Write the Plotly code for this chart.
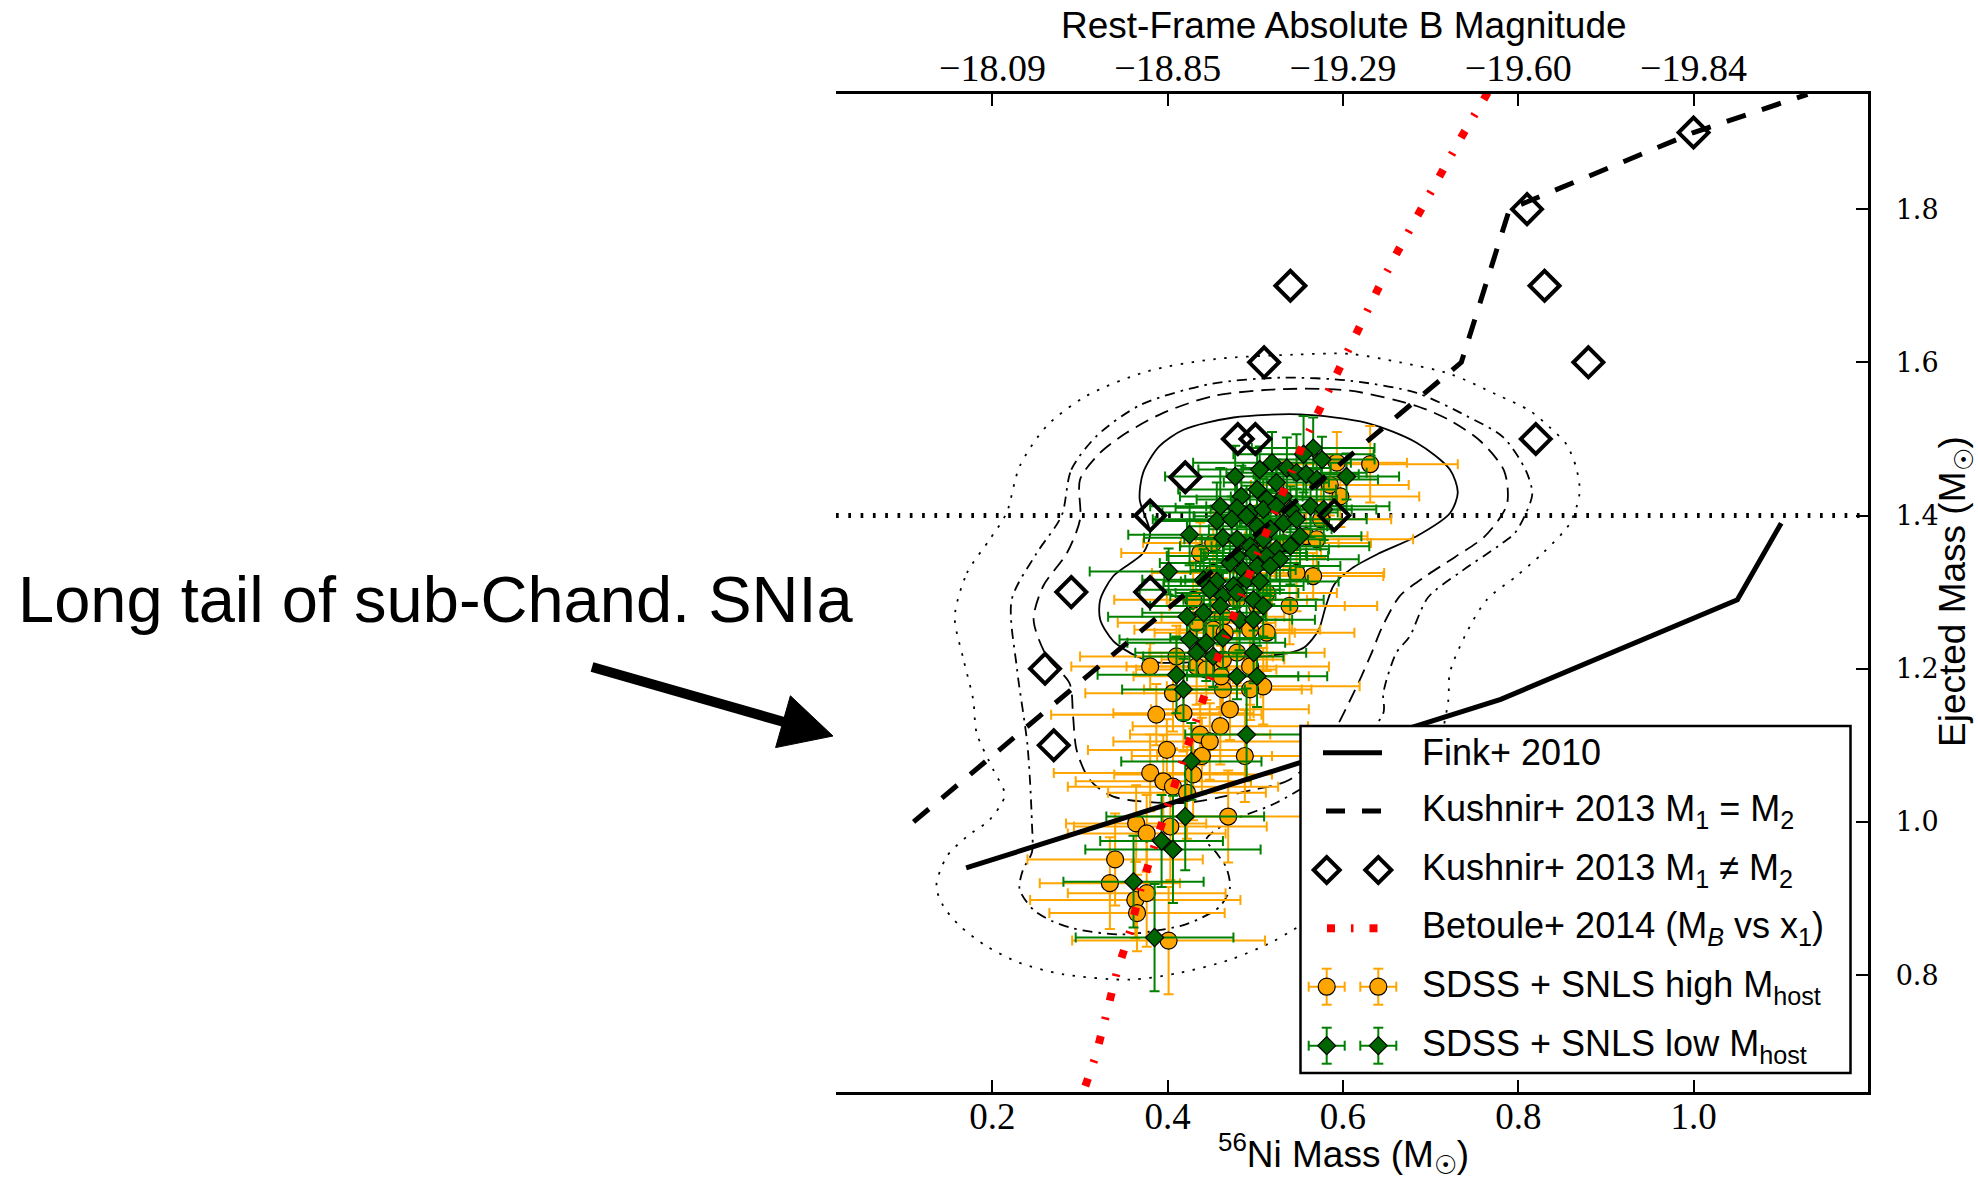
import plotly.graph_objects as go

W, H = 1978, 1182

# ---------------- axis box (pixels, from the reference) ----------------
AX_LEFT, AX_RIGHT, AX_TOP, AX_BOTTOM = 836.0, 1867.5, 93.5, 1091.5
X_RANGE = [0.0215, 1.1985]
Y_RANGE = [0.648, 1.951]

# ---------------- tick labels ----------------
x_tick_vals = [0.2, 0.4, 0.6, 0.8, 1.0]
x_tick_text = ["0.2", "0.4", "0.6", "0.8", "1.0"]
top_tick_text = ["\u221218.09", "\u221218.85", "\u221219.29", "\u221219.60", "\u221219.84"]
y_tick_vals = [0.8, 1.0, 1.2, 1.4, 1.6, 1.8]
y_tick_text = ["0.8", "1.0", "1.2", "1.4", "1.6", "1.8"]

# ---------------- data ----------------
chand_x = [0.0215, 1.1985]
chand_y = [1.4, 1.4]

fink_x = [0.17, 0.78, 1.05, 1.10]
fink_y = [0.94, 1.16, 1.29, 1.39]

kush_eq_x = [0.11, 0.735, 0.79, 1.00, 1.13]
kush_eq_y = [1.00, 1.60, 1.80, 1.90, 1.95]

kush_neq_x = [1.00, 0.81, 0.54, 0.83, 0.51, 0.88, 0.48, 0.50, 0.82, 0.42, 0.38, 0.59, 0.29, 0.38, 0.26, 0.27]
kush_neq_y = [1.90, 1.80, 1.70, 1.70, 1.60, 1.60, 1.50, 1.50, 1.50, 1.45, 1.40, 1.40, 1.30, 1.30, 1.20, 1.10]

betoule_x = [0.306, 0.318, 0.330, 0.342, 0.357, 0.369, 0.384, 0.399, 0.415, 0.430, 0.446, 0.463, 0.480,
             0.498, 0.517, 0.536, 0.555, 0.576, 0.597, 0.619, 0.640, 0.663, 0.686, 0.711, 0.735, 0.760, 0.770]
betoule_y = [0.655, 0.695, 0.749, 0.804, 0.857, 0.912, 0.966, 1.019, 1.072, 1.125, 1.179, 1.232, 1.286,
             1.338, 1.390, 1.443, 1.495, 1.545, 1.595, 1.645, 1.696, 1.746, 1.794, 1.844, 1.894, 1.942, 1.962]

# density contours (innermost solid -> outermost dotted)
c1_x = [0.323, 0.323, 0.338, 0.365, 0.390, 0.450, 0.500, 0.540, 0.556, 0.572, 0.580, 0.590, 0.610, 0.640, 0.684,
        0.722, 0.731, 0.722, 0.684, 0.627, 0.551, 0.475, 0.418, 0.390, 0.372, 0.368, 0.380, 0.372, 0.338, 0.323]
c1_y = [1.290, 1.264, 1.236, 1.216, 1.208, 1.210, 1.215, 1.221, 1.228, 1.250, 1.280, 1.310, 1.331, 1.350, 1.373,
        1.403, 1.430, 1.460, 1.495, 1.521, 1.532, 1.528, 1.512, 1.490, 1.456, 1.421, 1.377, 1.351, 1.321, 1.290]

c2_x = [0.300, 0.323, 0.353, 0.395, 0.452, 0.528, 0.608, 0.684, 0.724, 0.757, 0.784, 0.787, 0.762, 0.728, 0.692,
        0.665, 0.645, 0.631, 0.612, 0.580, 0.539, 0.498, 0.420, 0.338, 0.311, 0.296, 0.292, 0.288, 0.262, 0.247,
        0.258, 0.285, 0.300, 0.300]
c2_y = [1.447, 1.482, 1.508, 1.534, 1.556, 1.565, 1.563, 1.543, 1.523, 1.497, 1.458, 1.414, 1.373, 1.346, 1.319,
        1.295, 1.255, 1.216, 1.168, 1.100, 1.055, 1.042, 1.025, 1.033, 1.055, 1.094, 1.138, 1.181, 1.216, 1.264,
        1.308, 1.351, 1.395, 1.447]

c3_x = [0.279, 0.290, 0.320, 0.370, 0.450, 0.530, 0.608, 0.684, 0.741, 0.783, 0.809, 0.816, 0.808, 0.796, 0.777,
        0.735, 0.697, 0.676, 0.661, 0.646, 0.646, 0.600, 0.524, 0.470, 0.444, 0.456, 0.467, 0.471, 0.460, 0.439,
        0.414, 0.346, 0.292, 0.269, 0.247, 0.231, 0.235, 0.245, 0.245, 0.240, 0.228, 0.222, 0.250, 0.279]
c3_y = [1.400, 1.460, 1.505, 1.545, 1.572, 1.580, 1.576, 1.560, 1.530, 1.502, 1.458, 1.428, 1.401, 1.377, 1.360,
        1.327, 1.293, 1.242, 1.221, 1.168, 1.142, 1.080, 1.025, 1.000, 0.977, 0.959, 0.940, 0.914, 0.890, 0.875,
        0.864, 0.853, 0.861, 0.870, 0.885, 0.912, 0.938, 0.960, 1.000, 1.100, 1.200, 1.290, 1.350, 1.400]

c4_x = [0.157, 0.171, 0.197, 0.216, 0.231, 0.262, 0.307, 0.376, 0.452, 0.543, 0.608, 0.665, 0.722, 0.775, 0.813,
        0.836, 0.855, 0.866, 0.870, 0.859, 0.828, 0.798, 0.764, 0.741, 0.722, 0.720, 0.700, 0.650, 0.590, 0.543,
        0.517, 0.471, 0.414, 0.357, 0.281, 0.231, 0.193, 0.163, 0.144, 0.136, 0.148, 0.171, 0.197, 0.214, 0.201,
        0.182, 0.178, 0.167, 0.157]
c4_y = [1.268, 1.325, 1.369, 1.403, 1.464, 1.517, 1.556, 1.588, 1.604, 1.610, 1.611, 1.600, 1.585, 1.558, 1.537,
        1.515, 1.493, 1.463, 1.430, 1.390, 1.351, 1.321, 1.290, 1.247, 1.195, 1.157, 1.060, 0.960, 0.890, 0.859,
        0.842, 0.820, 0.803, 0.794, 0.801, 0.816, 0.838, 0.864, 0.890, 0.916, 0.955, 0.981, 1.003, 1.035, 1.068,
        1.116, 1.160, 1.212, 1.268]

# SDSS + SNLS, high host mass (orange circles)
high_x = [0.593, 0.631, 0.597, 0.558, 0.570, 0.452, 0.437, 0.547, 0.566, 0.452,
          0.429, 0.513, 0.502, 0.463, 0.452, 0.494, 0.513, 0.410, 0.380, 0.433,
          0.463, 0.479, 0.494, 0.444, 0.509, 0.494, 0.463, 0.406, 0.387, 0.418,
          0.471, 0.460, 0.437, 0.448, 0.399, 0.488, 0.439, 0.429, 0.380, 0.395,
          0.406, 0.422, 0.469, 0.364, 0.403, 0.376, 0.340, 0.334, 0.363, 0.376,
          0.365, 0.401, 0.433, 0.465, 0.461, 0.585, 0.575, 0.532, 0.505, 0.479, 0.539]
high_y = [1.469, 1.467, 1.425, 1.373, 1.369, 1.364, 1.351, 1.325, 1.321, 1.325,
          1.290, 1.299, 1.282, 1.268, 1.251, 1.251, 1.247, 1.216, 1.203, 1.203,
          1.212, 1.221, 1.203, 1.199, 1.177, 1.173, 1.173, 1.168, 1.140, 1.142,
          1.147, 1.125, 1.114, 1.105, 1.094, 1.086, 1.086, 1.062, 1.064, 1.053,
          1.046, 1.038, 1.007, 0.998, 0.994, 0.985, 0.951, 0.920, 0.898, 0.907,
          0.881, 0.845, 1.260, 1.247, 1.190, 1.440, 1.395, 1.364, 1.364, 1.290, 1.282]
high_xerr = [0.08, 0.10, 0.09, 0.07, 0.11, 0.08, 0.09, 0.10, 0.08, 0.07,
             0.09, 0.08, 0.10, 0.07, 0.09, 0.08, 0.10, 0.11, 0.09, 0.08,
             0.07, 0.10, 0.09, 0.08, 0.11, 0.07, 0.09, 0.10, 0.12, 0.08,
             0.09, 0.10, 0.08, 0.11, 0.09, 0.10, 0.08, 0.09, 0.11, 0.10,
             0.12, 0.09, 0.10, 0.08, 0.11, 0.09, 0.10, 0.08, 0.12, 0.09,
             0.10, 0.11, 0.09, 0.08, 0.10, 0.09, 0.08, 0.10, 0.09, 0.08, 0.10]
high_yerr = [0.04, 0.05, 0.04, 0.03, 0.05, 0.04, 0.04, 0.05, 0.03, 0.04,
             0.05, 0.04, 0.03, 0.05, 0.04, 0.04, 0.05, 0.04, 0.03, 0.05,
             0.04, 0.04, 0.05, 0.04, 0.05, 0.04, 0.03, 0.05, 0.04, 0.05,
             0.04, 0.05, 0.04, 0.05, 0.04, 0.06, 0.05, 0.06, 0.05, 0.06,
             0.05, 0.06, 0.06, 0.05, 0.07, 0.05, 0.06, 0.06, 0.05, 0.07,
             0.05, 0.07, 0.04, 0.05, 0.04, 0.04, 0.05, 0.04, 0.05, 0.04, 0.05]

# SDSS + SNLS, low host mass (green diamonds)
low_x = [0.566, 0.576, 0.555, 0.519, 0.505, 0.536, 0.547, 0.558, 0.570, 0.477,
         0.524, 0.502, 0.484, 0.513, 0.532, 0.460, 0.479, 0.494, 0.509, 0.524,
         0.540, 0.563, 0.578, 0.456, 0.473, 0.490, 0.502, 0.517, 0.532, 0.547,
         0.425, 0.463, 0.479, 0.494, 0.509, 0.524, 0.540, 0.551, 0.479, 0.498,
         0.513, 0.528, 0.471, 0.486, 0.502, 0.517, 0.401, 0.441, 0.456, 0.475,
         0.490, 0.505, 0.448, 0.463, 0.479, 0.498, 0.509, 0.422, 0.441, 0.460,
         0.482, 0.498, 0.425, 0.444, 0.463, 0.433, 0.452, 0.498, 0.410, 0.479,
         0.502, 0.418, 0.490, 0.427, 0.420, 0.393, 0.406, 0.361, 0.385, 0.604]
low_y = [1.488, 1.473, 1.480, 1.469, 1.460, 1.462, 1.456, 1.454, 1.447, 1.451,
         1.443, 1.434, 1.425, 1.421, 1.425, 1.412, 1.410, 1.404, 1.408, 1.412,
         1.408, 1.412, 1.408, 1.393, 1.395, 1.399, 1.386, 1.382, 1.390, 1.395,
         1.375, 1.371, 1.369, 1.360, 1.369, 1.356, 1.360, 1.373, 1.347, 1.351,
         1.347, 1.343, 1.338, 1.329, 1.334, 1.334, 1.327, 1.316, 1.314, 1.308,
         1.316, 1.314, 1.303, 1.295, 1.299, 1.290, 1.282, 1.268, 1.273, 1.282,
         1.264, 1.264, 1.238, 1.234, 1.240, 1.221, 1.216, 1.221, 1.192, 1.190,
         1.190, 1.173, 1.114, 1.079, 1.007, 0.975, 0.964, 0.922, 0.849, 1.451]
low_xerr = [0.07, 0.06, 0.08, 0.09, 0.07, 0.05, 0.08, 0.06, 0.07, 0.08,
            0.06, 0.09, 0.07, 0.08, 0.06, 0.08, 0.07, 0.10, 0.06, 0.08,
            0.07, 0.09, 0.06, 0.07, 0.09, 0.06, 0.08, 0.07, 0.05, 0.08,
            0.07, 0.09, 0.06, 0.08, 0.07, 0.06, 0.09, 0.07, 0.08, 0.06,
            0.07, 0.09, 0.08, 0.06, 0.07, 0.08, 0.09, 0.07, 0.06, 0.08,
            0.07, 0.09, 0.08, 0.06, 0.07, 0.08, 0.06, 0.09, 0.07, 0.08,
            0.06, 0.07, 0.08, 0.09, 0.06, 0.07, 0.08, 0.06, 0.09, 0.07,
            0.08, 0.07, 0.07, 0.08, 0.09, 0.07, 0.10, 0.08, 0.09, 0.06]
low_yerr = [0.04, 0.03, 0.05, 0.04, 0.03, 0.04, 0.05, 0.03, 0.04, 0.04,
            0.03, 0.05, 0.04, 0.03, 0.04, 0.05, 0.04, 0.03, 0.04, 0.05,
            0.03, 0.04, 0.04, 0.05, 0.03, 0.04, 0.04, 0.05, 0.03, 0.04,
            0.04, 0.03, 0.05, 0.04, 0.03, 0.04, 0.05, 0.04, 0.03, 0.04,
            0.05, 0.04, 0.03, 0.04, 0.04, 0.05, 0.03, 0.04, 0.04, 0.03,
            0.05, 0.04, 0.04, 0.03, 0.05, 0.04, 0.04, 0.03, 0.04, 0.05,
            0.04, 0.03, 0.04, 0.05, 0.04, 0.03, 0.04, 0.04, 0.05, 0.03,
            0.04, 0.04, 0.06, 0.05, 0.07, 0.06, 0.07, 0.06, 0.07, 0.03]

legend_labels = [
    "Fink+ 2010",
    "Kushnir+ 2013 M<sub>1</sub> = M<sub>2</sub>",
    "Kushnir+ 2013 M<sub>1</sub> \u2260 M<sub>2</sub>",
    "Betoule+ 2014 (M<sub><i>B</i></sub> vs x<sub>1</sub>)",
    "SDSS + SNLS high M<sub>host</sub>",
    "SDSS + SNLS low M<sub>host</sub>",
]

# ---------------- styles ----------------
ORANGE = "#FFA500"
GREEN_BAR = "#008000"
GREEN_FILL = "#006400"
RED = "#FF0000"
SANS = "Liberation Sans"


def fx(p):
    return p / W


def fy(p):
    return 1 - p / H


fig = go.Figure()

# contours
for cx, cy, dash in [(c4_x, c4_y, "2.5px,8.5px"), (c3_x, c3_y, "10px,6px,2.5px,6px"),
                     (c2_x, c2_y, "14px,8px"), (c1_x, c1_y, "solid")]:
    fig.add_trace(go.Scatter(x=cx, y=cy, mode="lines", showlegend=False, hoverinfo="skip",
                             line=dict(color="black", width=1.8, dash=dash, shape="spline", smoothing=0.8)))

# Chandrasekhar mass line
fig.add_trace(go.Scatter(x=chand_x, y=chand_y, mode="lines", showlegend=False, hoverinfo="skip",
                         line=dict(color="black", width=5, dash="2.7px,9.6px")))

# data points
fig.add_trace(go.Scatter(
    x=high_x, y=high_y, mode="markers", name="SDSS + SNLS high M_host", showlegend=False,
    error_x=dict(type="data", array=high_xerr, color=ORANGE, thickness=2, width=5),
    error_y=dict(type="data", array=high_yerr, color=ORANGE, thickness=2, width=5),
    marker=dict(symbol="circle", size=17, color=ORANGE, line=dict(color="black", width=1.2))))
fig.add_trace(go.Scatter(
    x=low_x, y=low_y, mode="markers", name="SDSS + SNLS low M_host", showlegend=False,
    error_x=dict(type="data", array=low_xerr, color=GREEN_BAR, thickness=2, width=5),
    error_y=dict(type="data", array=low_yerr, color=GREEN_BAR, thickness=2, width=5),
    marker=dict(symbol="diamond", size=14, color=GREEN_FILL, line=dict(color="black", width=1.2))))

# models
fig.add_trace(go.Scatter(x=fink_x, y=fink_y, mode="lines", name="Fink+ 2010", showlegend=False,
                         line=dict(color="black", width=5)))
fig.add_trace(go.Scatter(x=kush_eq_x, y=kush_eq_y, mode="lines", name="Kushnir+ 2013 M1 = M2",
                         showlegend=False, line=dict(color="black", width=5, dash="20px,17px")))
fig.add_trace(go.Scatter(x=kush_neq_x, y=kush_neq_y, mode="markers", name="Kushnir+ 2013 M1 != M2",
                         showlegend=False,
                         marker=dict(symbol="diamond-open", size=23, color="black", line=dict(width=4))))
fig.add_trace(go.Scatter(x=betoule_x, y=betoule_y, mode="lines", name="Betoule+ 2014", showlegend=False,
                         line=dict(color=RED, width=8, dash="8px,17px,2.5px,17px")))

# empty trace so that the top axis exists
fig.add_trace(go.Scatter(x=[], y=[], xaxis="x2", yaxis="y", showlegend=False, hoverinfo="skip"))

# ---------------- custom legend (drawn like the matplotlib one) ----------------
shapes = []
LEG_L, LEG_T, LEG_R, LEG_B = 1300.5, 726.0, 1850.5, 1073.0
shapes.append(dict(type="rect", xref="paper", yref="paper", x0=fx(LEG_L), x1=fx(LEG_R), y0=fy(LEG_B),
                   y1=fy(LEG_T), fillcolor="white", line=dict(color="black", width=2.5), layer="above"))
rows = [752.7, 811.0, 870.0, 928.3, 986.7, 1045.7]
m1, m2 = 1326.7, 1378.3
# Fink
shapes.append(dict(type="line", xref="paper", yref="paper", x0=fx(1323), x1=fx(1382), y0=fy(rows[0]),
                   y1=fy(rows[0]), line=dict(color="black", width=5), layer="above"))
# Kushnir equal
shapes.append(dict(type="line", xref="paper", yref="paper", x0=fx(1326), x1=fx(1381), y0=fy(rows[1]),
                   y1=fy(rows[1]), line=dict(color="black", width=5, dash="19px,17px"), layer="above"))


def diamond_path(cx, cy, r):
    return "M {},{} L {},{} L {},{} L {},{} Z".format(fx(cx - r), fy(cy), fx(cx), fy(cy - r),
                                                      fx(cx + r), fy(cy), fx(cx), fy(cy + r))


for mx in (m1, m2):
    shapes.append(dict(type="path", xref="paper", yref="paper", path=diamond_path(mx, rows[2], 13),
                       fillcolor="white", line=dict(color="black", width=4), layer="above"))
# Betoule
for (a, b) in [(1327.0, 1335.0), (1351.0, 1353.5), (1369.5, 1377.5)]:
    shapes.append(dict(type="rect", xref="paper", yref="paper", x0=fx(a), x1=fx(b), y0=fy(rows[3] + 4),
                       y1=fy(rows[3] - 4), fillcolor=RED, line=dict(width=0), layer="above"))


def errbar_shapes(cx, cy, color):
    out = []
    e, c = 18, 5
    for (x0, y0, x1, y1) in [(cx - e, cy, cx + e, cy), (cx, cy - e, cx, cy + e),
                             (cx - e, cy - c, cx - e, cy + c), (cx + e, cy - c, cx + e, cy + c),
                             (cx - c, cy - e, cx + c, cy - e), (cx - c, cy + e, cx + c, cy + e)]:
        out.append(dict(type="line", xref="paper", yref="paper", x0=fx(x0), x1=fx(x1), y0=fy(y0), y1=fy(y1),
                        line=dict(color=color, width=2), layer="above"))
    return out


for mx in (m1, m2):
    shapes += errbar_shapes(mx, rows[4], ORANGE)
    shapes.append(dict(type="circle", xref="paper", yref="paper", x0=fx(mx - 8.5), x1=fx(mx + 8.5),
                       y0=fy(rows[4] + 8.5), y1=fy(rows[4] - 8.5), fillcolor=ORANGE,
                       line=dict(color="black", width=1.2), layer="above"))
for mx in (m1, m2):
    shapes += errbar_shapes(mx, rows[5], GREEN_BAR)
    shapes.append(dict(type="path", xref="paper", yref="paper", path=diamond_path(mx, rows[5], 9),
                       fillcolor=GREEN_FILL, line=dict(color="black", width=1.2), layer="above"))

# arrow
tail, tip = (592.0, 667.0), (833.0, 736.0)
shapes.append(dict(type="line", xref="paper", yref="paper", x0=fx(tail[0]), y0=fy(tail[1]), x1=fx(784),
                   y1=fy(722), line=dict(color="black", width=10), layer="above"))
shapes.append(dict(type="path", xref="paper", yref="paper",
                   path="M {},{} L {},{} L {},{} Z".format(fx(tip[0]), fy(tip[1]), fx(790.4), fy(695.8),
                                                           fx(775.6), fy(747.6)),
                   fillcolor="black", line=dict(color="black", width=1), layer="above"))

annotations = []
for lab, ry in zip(legend_labels, rows):
    annotations.append(dict(text=lab, xref="paper", yref="paper", x=fx(1420), y=fy(ry), xanchor="left",
                            yanchor="middle", showarrow=False, font=dict(family=SANS, size=36, color="black")))

annotations.append(dict(text="Long tail of sub-Chand. SNIa", xref="paper", yref="paper", x=fx(16), y=fy(599),
                        xanchor="left", yanchor="middle", showarrow=False,
                        font=dict(family=SANS, size=65, color="black")))
# axis titles
annotations.append(dict(text="Rest-Frame Absolute B Magnitude", xref="paper", yref="paper", x=fx(1343.5),
                        y=fy(25), xanchor="center", yanchor="middle", showarrow=False,
                        font=dict(family=SANS, size=37, color="black")))
annotations.append(dict(text="<sup>56</sup>Ni Mass (M<sub>\u2609</sub>)", xref="paper", yref="paper",
                        x=fx(1343), y=fy(1153), xanchor="center", yanchor="middle", showarrow=False,
                        font=dict(family=SANS, size=37, color="black")))
annotations.append(dict(text="Ejected Mass (M<sub>\u2609</sub>)", xref="paper", yref="paper", x=fx(1955),
                        y=fy(592), xanchor="center", yanchor="middle", textangle=-90, showarrow=False,
                        font=dict(family=SANS, size=37, color="black")))

fig.update_layout(
    width=W, height=H, margin=dict(l=0, r=0, t=0, b=0),
    paper_bgcolor="white", plot_bgcolor="white", showlegend=False, hovermode=False,
    font=dict(family=SANS, color="black"),
    xaxis=dict(domain=[fx(AX_LEFT), fx(AX_RIGHT)], range=X_RANGE, anchor="y", side="bottom",
               tickvals=x_tick_vals, ticktext=x_tick_text, ticks="inside", ticklen=12, tickwidth=1.5,
               tickcolor="black", showline=True, linewidth=3, linecolor="black", mirror=False,
               showgrid=False, zeroline=False, automargin=False, ticklabelstandoff=-10,
               tickfont=dict(family="Liberation Serif", size=37, color="black")),
    xaxis2=dict(domain=[fx(AX_LEFT), fx(AX_RIGHT)], range=X_RANGE, anchor="y", overlaying="x", side="top",
                tickvals=x_tick_vals, ticktext=top_tick_text, ticks="inside", ticklen=12, tickwidth=1.5,
                tickcolor="black", showline=True, linewidth=3, linecolor="black", showgrid=False,
                zeroline=False, automargin=False, ticklabelstandoff=-6,
                tickfont=dict(family="Liberation Serif", size=38, color="black")),
    yaxis=dict(domain=[fy(AX_BOTTOM), fy(AX_TOP)], range=Y_RANGE, anchor="x", side="right",
               tickvals=y_tick_vals, ticktext=y_tick_text, ticks="inside", ticklen=12, tickwidth=1.5,
               tickcolor="black", showline=True, linewidth=2.5, linecolor="black", showgrid=False,
               zeroline=False, automargin=False, ticklabelstandoff=20,
               tickfont=dict(family="DejaVu Serif", size=27, color="black")),
    shapes=shapes, annotations=annotations,
)

fig.write_html("out.html")
